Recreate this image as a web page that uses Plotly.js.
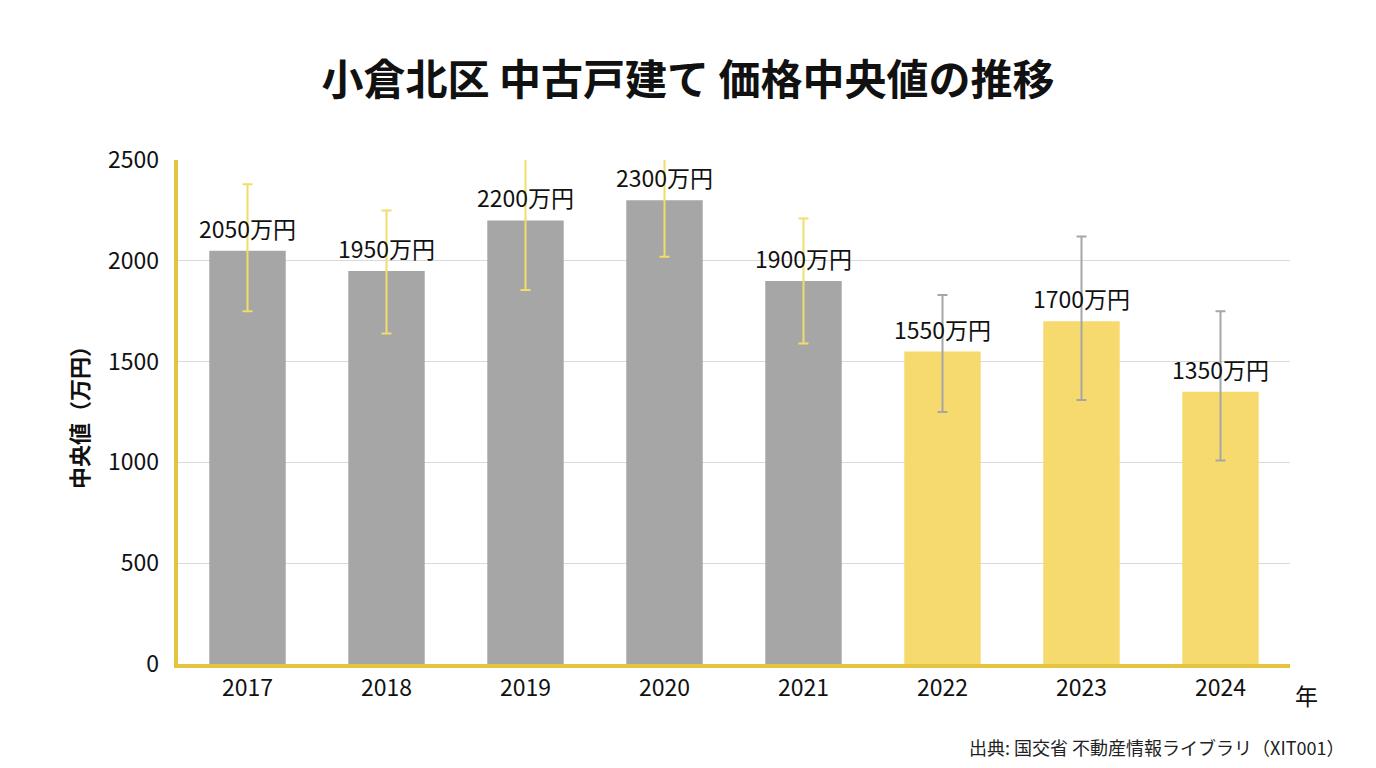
<!DOCTYPE html>
<html>
<head>
<meta charset="utf-8">
<script src="https://cdn.plot.ly/plotly-3.0.1.min.js"></script>
<style>html,body{margin:0;padding:0;background:#fff;}#chart{width:1376px;height:768px;}</style>
</head>
<body>
<div id="chart"></div>
<script>
// data
const years = ['2017', '2018', '2019', '2020', '2021', '2022', '2023', '2024'];
const medians = [2050, 1950, 2200, 2300, 1900, 1550, 1700, 1350];
const errPlus = [330, 300, 340, 260, 310, 280, 420, 400];
const errMinus = [300, 310, 345, 280, 310, 300, 390, 340];
const labels = ['2050万円', '1950万円', '2200万円', '2300万円', '1900万円', '1550万円', '1700万円', '1350万円'];

const GRAY = '#a6a6a6';
const YELLOW = '#f7da6e';
const AXIS = '#e6c33f';
const FONT = '"Noto Sans CJK JP", "Noto Sans", sans-serif';

const pos = years.map((y, i) => i);

// first five years grey with yellow whiskers, last three the other way round
function part(from, to, fill, whisker) {
	return {
		type: 'bar',
		x: pos.slice(from, to),
		y: medians.slice(from, to),
		width: 0.55,
		marker: {color: fill},
		error_y: {
			type: 'data', symmetric: false,
			array: errPlus.slice(from, to),
			arrayminus: errMinus.slice(from, to),
			color: whisker, thickness: 2, width: 5
		},
		hoverinfo: 'skip',
		showlegend: false
	};
}

const data = [part(0, 5, GRAY, '#f2dc6a'), part(5, 8, YELLOW, '#a6a6a6')];

const annotations = pos.map(i => ({
	x: i, y: medians[i], text: labels[i],
	showarrow: false, yanchor: 'bottom', yshift: 4,
	font: {size: 23, color: '#111', family: FONT}
}));
annotations.push({
	xref: 'paper', yref: 'paper', x: 1.003, y: 0, xanchor: 'left', yanchor: 'top',
	yshift: -12, text: '年', showarrow: false, font: {size: 23, color: '#111', family: FONT}
});
annotations.push({
	xref: 'paper', yref: 'paper', x: 1.05, y: 0, xanchor: 'right', yanchor: 'top',
	yshift: -68, text: '出典: 国交省 不動産情報ライブラリ（XIT001）', showarrow: false,
	font: {size: 18, color: '#222', family: FONT}
});

const layout = {
	width: 1376, height: 768,
	paper_bgcolor: '#fff', plot_bgcolor: '#fff',
	margin: {l: 178, r: 86, t: 160, b: 104},
	barmode: 'overlay',
	title: {
		text: '<b>小倉北区 中古戸建て 価格中央値の推移</b>',
		x: 0.5, xanchor: 'center', y: 0.895, yanchor: 'middle',
		font: {size: 42, color: '#111', family: FONT}
	},
	xaxis: {
		range: [-0.5, 7.5],
		tickvals: pos, ticktext: years,
		showline: true, linecolor: AXIS, linewidth: 4, ticks: '',
		tickfont: {size: 23, color: '#111', family: FONT},
		showgrid: false, zeroline: false
	},
	yaxis: {
		range: [0, 2500], dtick: 500,
		showline: true, linecolor: AXIS, linewidth: 4,
		gridcolor: '#d9d9d9', gridwidth: 1, zeroline: false,
		tickfont: {size: 23, color: '#111', family: FONT},
		ticksuffix: '  ',
		title: {text: '<b>中央値（万円）</b>', font: {size: 22, color: '#111', family: FONT}, standoff: 14}
	},
	annotations: annotations
};

Plotly.newPlot('chart', data, layout, {displayModeBar: false, staticPlot: true});
</script>
</body>
</html>
